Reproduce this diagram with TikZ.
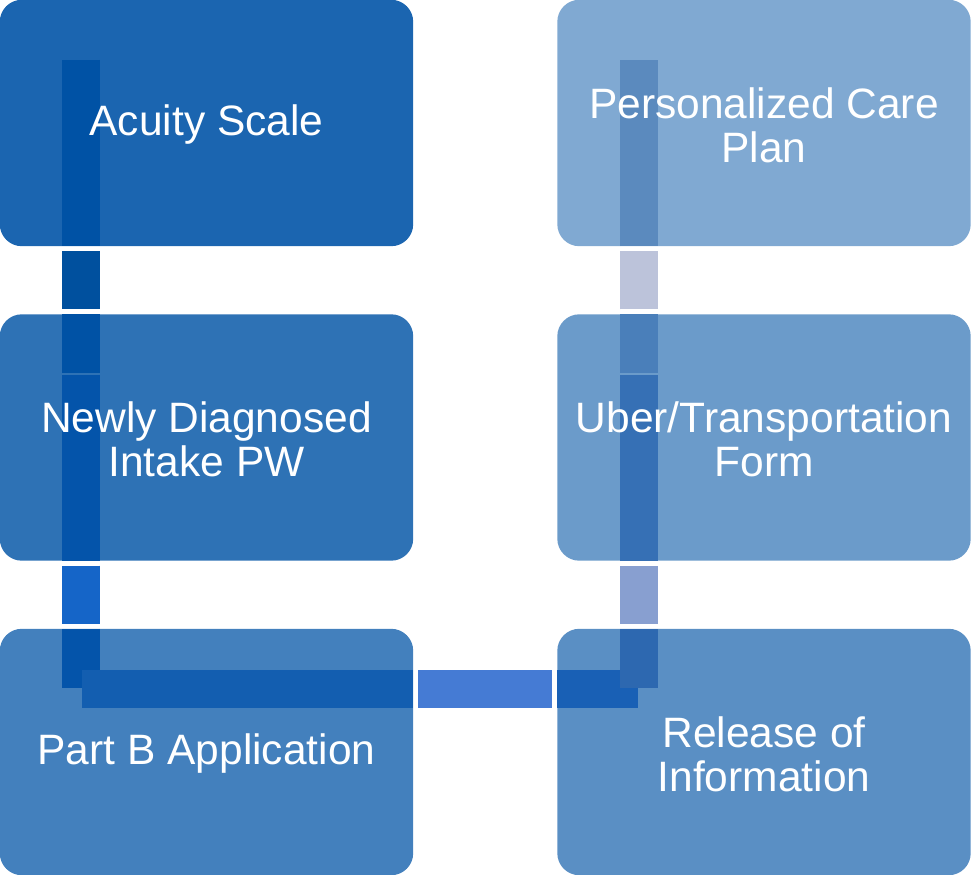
\documentclass[tikz,border=0pt]{standalone}
\usepackage{fontspec}
\setmainfont{Liberation Sans}
\usepackage{tikz}
\usetikzlibrary{positioning,backgrounds}
\usepackage{xcolor}
\definecolor{cpbox1}{RGB}{27,101,176}
\definecolor{cpbox2}{RGB}{46,114,181}
\definecolor{cpbox3}{RGB}{67,128,189}
\definecolor{cpbox4}{RGB}{90,143,196}
\definecolor{cpbox5}{RGB}{107,155,202}
\definecolor{cpbox6}{RGB}{128,169,210}
\definecolor{cplinkA}{RGB}{0,82,165}
\definecolor{cplinkAgap}{RGB}{0,80,158}
\definecolor{cplinkB}{RGB}{4,84,170}
\definecolor{cplinkBgap}{RGB}{21,101,200}
\definecolor{cplinkC}{RGB}{19,94,176}
\definecolor{cplinkCgap}{RGB}{69,123,212}
\definecolor{cplinkCend}{RGB}{25,96,181}
\definecolor{cplinkD}{RGB}{45,104,176}
\definecolor{cplinkDgap}{RGB}{136,159,208}
\definecolor{cplinkDend}{RGB}{54,112,181}
\definecolor{cplinkE}{RGB}{74,127,186}
\definecolor{cplinkEgap}{RGB}{188,195,218}
\definecolor{cplinkEend}{RGB}{91,138,190}
\tikzstyle{stage} = [rectangle, minimum width=413pt, minimum height=246pt, align=center, text=white, font=\fontsize{42.5pt}{44pt}\selectfont]
\tikzstyle{stagefill} = [rounded corners=22pt]
\tikzstyle{link} = [line width=38pt, line cap=butt]
\tikzstyle{gap} = [shorten <=5pt, shorten >=5pt]

\begin{document}
\begin{tikzpicture}[x=1pt, y=1pt]
\useasboundingbox (0,0) rectangle (972,-875);

% Steps, left column top to bottom, right column bottom to top
\node (acuity) [stage] at (206.5,-125) {Acuity Scale};
\node (newly) [stage, below of=acuity, node distance=314.5pt] {Newly Diagnosed\\Intake PW};
\node (partb) [stage, below of=newly, node distance=314.5pt] {Part B Application};
\node (release) [stage, right of=partb, node distance=557.5pt] {Release of\\Information};
\node (uber) [stage, above of=release, node distance=314.5pt] {Uber/Transportation\\Form};
\node (plan) [stage, above of=uber, node distance=314.5pt] {Personalized Care\\Plan};

\begin{scope}[on background layer]
% Boxes
\fill[cpbox1, stagefill] ([yshift=2pt]acuity.north west) rectangle ([yshift=2pt]acuity.south east);
\fill[cpbox2, stagefill] ([yshift=2pt]newly.north west) rectangle ([yshift=2pt]newly.south east);
\fill[cpbox3, stagefill] ([yshift=2pt]partb.north west) rectangle ([yshift=2pt]partb.south east);
\fill[cpbox4, stagefill] ([yshift=2pt]release.north west) rectangle ([yshift=2pt]release.south east);
\fill[cpbox5, stagefill] ([yshift=2pt]uber.north west) rectangle ([yshift=2pt]uber.south east);
\fill[cpbox6, stagefill] ([yshift=2pt]plan.north west) rectangle ([yshift=2pt]plan.south east);

% Acuity -> Newly
\draw[link, cplinkA] ([shift={(81pt,-58pt)}]acuity.north west) -- ([shift={(81pt,2pt)}]acuity.south west);
\draw[link, gap, cplinkAgap] ([shift={(81pt,2pt)}]acuity.south west) -- ([shift={(81pt,2pt)}]newly.north west);
\draw[link, cplinkA] ([shift={(81pt,2pt)}]newly.north west) -- ([shift={(81pt,-56.5pt)}]newly.north west);

% Newly -> Part B
\draw[link, cplinkB] ([shift={(81pt,-58.5pt)}]newly.north west) -- ([shift={(81pt,2pt)}]newly.south west);
\draw[link, gap, cplinkBgap] ([shift={(81pt,2pt)}]newly.south west) -- ([shift={(81pt,2pt)}]partb.north west);
\draw[link, cplinkB] ([shift={(81pt,2pt)}]partb.north west) -- ([shift={(81pt,-57pt)}]partb.north west);

% Part B -> Release
\draw[link, cplinkC] ([shift={(82pt,-58pt)}]partb.north west) -- ([yshift=-58pt]partb.north east);
\draw[link, gap, cplinkCgap] ([yshift=-58pt]partb.north east) -- ([yshift=-58pt]release.north west);
\draw[link, cplinkCend] ([yshift=-58pt]release.north west) -- ([shift={(81pt,-58pt)}]release.north west);

% Release -> Uber
\draw[link, cplinkD] ([shift={(82pt,-57pt)}]release.north west) -- ([shift={(82pt,2pt)}]release.north west);
\draw[link, gap, cplinkDgap] ([shift={(82pt,2pt)}]release.north west) -- ([shift={(82pt,2pt)}]uber.south west);
\draw[link, cplinkDend] ([shift={(82pt,2pt)}]uber.south west) -- ([shift={(82pt,-58.5pt)}]uber.north west);

% Uber -> Personalized
\draw[link, cplinkE] ([shift={(82pt,-56.5pt)}]uber.north west) -- ([shift={(82pt,2pt)}]uber.north west);
\draw[link, gap, cplinkEgap] ([shift={(82pt,2pt)}]uber.north west) -- ([shift={(82pt,2pt)}]plan.south west);
\draw[link, cplinkEend] ([shift={(82pt,2pt)}]plan.south west) -- ([shift={(82pt,-58pt)}]plan.north west);
\end{scope}
\end{tikzpicture}
\end{document}
